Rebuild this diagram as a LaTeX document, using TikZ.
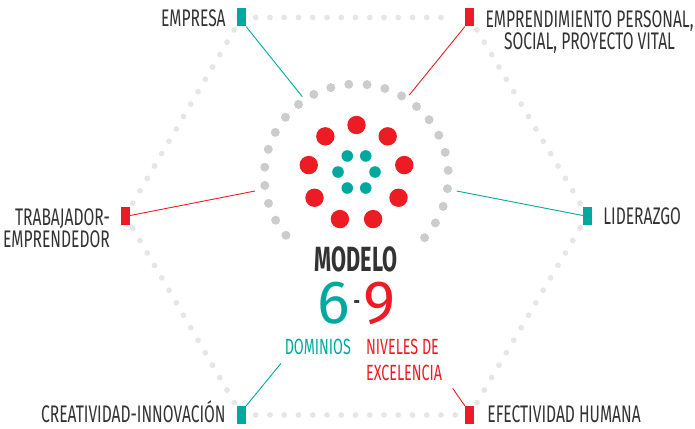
\documentclass[tikz,border=0pt]{standalone}
\usepackage{fontspec}
\usetikzlibrary{positioning,calc}
\newfontfamily\lblfont[FakeStretch=0.65]{Fira Sans}
\newfontfamily\hdfont[FakeStretch=0.62]{Fira Sans}
\newfontfamily\numfont{Fira Sans}
\definecolor{teal69}{HTML}{00A99D}
\definecolor{red69}{HTML}{ED1C24}
\definecolor{txtgray}{HTML}{333333}
\definecolor{hexgray}{HTML}{E6E6E6}
\definecolor{ringgray}{HTML}{CCCCCC}

\begin{document}
\begin{tikzpicture}[x=1pt, y=-1pt,
        sqr/.style={rectangle, minimum width=9pt, minimum height=18pt, inner sep=0pt},
        lbl/.style={font=\lblfont\fontsize{24}{22.5}\selectfont, text=txtgray, inner sep=0pt},
        sublbl/.style={font=\lblfont\fontsize{22}{25.5}\selectfont, inner sep=0pt},
        digit/.style={font=\numfont\fontsize{61}{61}\selectfont, inner sep=0pt},
        link/.style={line width=0.9pt}
    ]
    \useasboundingbox (0,0) rectangle (695,428);

    % corners of the hexagon
    \coordinate (cTL) at (241.5,17.5);
    \coordinate (cTR) at (469.5,17.5);
    \coordinate (cR) at (587.5,215.5);
    \coordinate (cBR) at (469.5,415);
    \coordinate (cBL) at (241.5,415);
    \coordinate (cL) at (125.5,215.5);

    % dotted hexagon
    \foreach \a/\b/\n in {cTL/cTR/14, cTR/cR/15, cR/cBR/15, cBR/cBL/15, cBL/cL/15, cL/cTL/15}
        \foreach \k in {1,...,\n}
            \fill[hexgray] ($(\a)!\k/16!(\b)$) circle (2.9pt);

    % dotted ring
    \foreach \i in {0,...,23}
        \fill[ringgray] (356.3,176) ++({42.1-11.4*\i}:92) circle (4.5pt);

    % 9 levels, 6 domains
    \foreach \k in {0,...,8}
        \fill[red69] (356.5,173.5) ++({-90+40*\k}:48.5) circle (9.2pt);
    \foreach \k in {0,...,5}
        \fill[teal69] (356.5,172) ++(60*\k:18.5) circle (5.8pt);

    % markers
    \node[sqr, fill=teal69] (mTL) at (cTL) {};
    \node[sqr, fill=red69] (mTR) at (cTR) {};
    \node[sqr, fill=teal69] (mR) at (cR) {};
    \node[sqr, fill=red69] (mBR) at (cBR) {};
    \node[sqr, fill=teal69] (mBL) at (cBL) {};
    \node[sqr, fill=red69] (mL) at (cL) {};

    % labels
    \node[lbl, anchor=base east] (empresa) at ([xshift=-11pt]mTL.south west) {EMPRESA};
    \node[lbl, anchor=north, align=center] (emprend) at (589.5,10) {EMPRENDIMIENTO PERSONAL,\\SOCIAL, PROYECTO VITAL};
    \node[lbl, anchor=north east, align=right] (trabaj) at (110,208) {TRABAJADOR-\\EMPRENDEDOR};
    \node[lbl, anchor=base west] (lider) at ([xshift=11pt]mR.south east) {LIDERAZGO};
    \node[lbl, anchor=base east] (creat) at ([xshift=-11pt, yshift=2pt]mBL.south west) {CREATIVIDAD-INNOVACIÓN};
    \node[lbl, anchor=base west] (efect) at ([xshift=13pt, yshift=2pt]mBR.south east) {EFECTIVIDAD HUMANA};

    % model title
    \node[anchor=base, inner sep=0pt, text=txtgray, font=\hdfont\bfseries\fontsize{35}{35}\selectfont] (modelo) at (356,271) {MODELO};
    \node[digit, anchor=base] (sixnine) at (356.5,323) {\textcolor{teal69}{6}\hspace{4pt}\raisebox{14pt}{\textcolor{txtgray}{\lblfont\bfseries\fontsize{24}{24}\selectfont -}}\hspace{4pt}\textcolor{red69}{9}};
    \node[sublbl, text=teal69, anchor=base east] (domin) at (351,354) {DOMINIOS};
    \node[sublbl, text=red69, anchor=north west, align=left] (nivel) at (366,339) {NIVELES DE\\EXCELENCIA};

    % connectors
    \coordinate (eTL) at (302.3,96.7);
    \coordinate (eTR) at (409.3,95);
    \coordinate (eL) at (255,191);
    \coordinate (eR) at (456.7,191);
    \coordinate (eBL) at (281,363.3);
    \coordinate (eBR) at (452.7,388.3);
    \draw[link, teal69] (mTL.south east) -- (eTL);
    \draw[link, red69] (mTR.south west) -- (eTR);
    \draw[link, red69] (mL.east) -- (eL);
    \draw[link, teal69] (eR) -- (mR.west);
    \draw[link, teal69] (mBL.north east) -- (eBL);
    \draw[link, red69] (eBR) -- (mBR.north west);
\end{tikzpicture}
\end{document}
